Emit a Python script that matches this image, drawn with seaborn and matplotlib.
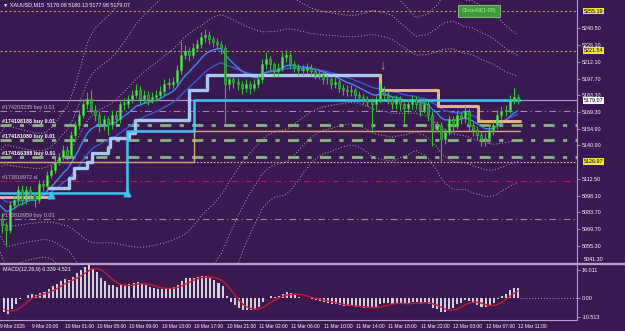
import numpy as np
import pandas as pd
import matplotlib
matplotlib.use("Agg")
import matplotlib.pyplot as plt
import matplotlib.transforms as mtransforms
from matplotlib.lines import Line2D
import seaborn as sns

# XAUUSD closes before the visible window (warm up the indicators only)
prev_closes = [5112, 5110, 5114, 5108, 5111, 5106, 5109, 5104, 5107, 5102,
               5105, 5100, 5103, 5098, 5100, 5094, 5090, 5086, 5082, 5078]

# visible bars (half-hour steps)
closes = [5073, 5069, 5090, 5094, 5103, 5094, 5103, 5099, 5094, 5108,
          5106, 5116, 5120, 5127, 5131, 5137, 5133, 5150, 5158, 5167,
          5176, 5180, 5171, 5167, 5158, 5163, 5158, 5167, 5163, 5176,
          5176, 5180, 5184, 5188, 5180, 5184, 5180, 5182, 5184, 5187,
          5193, 5193, 5195, 5205, 5218, 5221, 5218, 5224, 5227, 5233,
          5235, 5231, 5229, 5227, 5224, 5193, 5197, 5195, 5193, 5190,
          5193, 5190, 5193, 5197, 5210, 5214, 5210, 5204, 5207, 5216,
          5218, 5210, 5207, 5205, 5205, 5207, 5204, 5201, 5201, 5197,
          5197, 5193, 5195, 5190, 5188, 5187, 5188, 5184, 5182, 5180,
          5178, 5176, 5180, 5188, 5184, 5180, 5176, 5180, 5176, 5173,
          5176, 5180, 5176, 5171, 5176, 5167, 5155, 5158, 5146, 5152,
          5163, 5158, 5167, 5164, 5170, 5158, 5154, 5150, 5146, 5147,
          5154, 5158, 5167, 5170, 5171, 5180, 5182, 5179.07]
highs = [5083, 5076, 5093, 5098, 5106, 5107, 5106, 5106, 5101, 5111,
         5111, 5119, 5124, 5130, 5134, 5141, 5140, 5153, 5162, 5171,
         5180, 5186, 5188, 5175, 5170, 5167, 5166, 5171, 5170, 5179,
         5181, 5184, 5188, 5193, 5191, 5188, 5187, 5186, 5188, 5191,
         5197, 5198, 5199, 5209, 5230, 5226, 5225, 5228, 5231, 5237,
         5240, 5238, 5234, 5232, 5230, 5226, 5201, 5200, 5198, 5196,
         5197, 5196, 5197, 5201, 5214, 5220, 5217, 5212, 5211, 5220,
         5222, 5220, 5213, 5210, 5209, 5211, 5210, 5207, 5205, 5203,
         5201, 5199, 5199, 5197, 5193, 5192, 5192, 5190, 5187, 5185,
         5183, 5181, 5184, 5194, 5191, 5187, 5183, 5184, 5183, 5179,
         5180, 5184, 5183, 5179, 5180, 5179, 5170, 5162, 5161, 5156,
         5167, 5166, 5171, 5170, 5174, 5172, 5161, 5157, 5153, 5151,
         5158, 5162, 5171, 5174, 5175, 5184, 5190, 5185]
lows = [5066, 5056, 5066, 5087, 5091, 5090, 5091, 5095, 5088, 5092,
        5102, 5103, 5113, 5117, 5124, 5128, 5128, 5130, 5147, 5155,
        5164, 5172, 5168, 5162, 5152, 5154, 5150, 5155, 5158, 5160,
        5171, 5173, 5177, 5181, 5176, 5177, 5175, 5177, 5179, 5181,
        5184, 5189, 5190, 5192, 5202, 5214, 5213, 5215, 5221, 5224,
        5229, 5227, 5225, 5223, 5219, 5160, 5188, 5190, 5188, 5185,
        5186, 5185, 5187, 5190, 5194, 5206, 5205, 5199, 5200, 5204,
        5212, 5206, 5203, 5201, 5201, 5202, 5200, 5197, 5197, 5193,
        5193, 5189, 5190, 5186, 5184, 5183, 5183, 5180, 5178, 5176,
        5174, 5154, 5172, 5177, 5180, 5176, 5172, 5172, 5171, 5160,
        5169, 5172, 5172, 5166, 5168, 5162, 5140, 5152, 5127, 5142,
        5150, 5152, 5155, 5159, 5160, 5153, 5149, 5145, 5140, 5140,
        5143, 5150, 5155, 5163, 5166, 5168, 5176, 5176]

# step indicators: bar index where each level starts, and the level
cyan_idx = [-1, 30.8, 47.3, 127.6]
cyan_lvl = [5100.3, 5153.1, 5179.5, 5179.5]
steel_idx = [11.6, 16.5, 17.7, 21.0, 22.2, 26.0, 26.6, 31.3, 32.8, 46.0, 50.5, 93.2]
steel_lvl = [5104.5, 5113.1, 5121.6, 5126.7, 5134.3, 5139.5, 5147.1, 5151.3,
             5162.4, 5188.0, 5200.7, 5200.7]
tan_idx = [93.2, 93.2, 107.3, 117.3, 127.6]
tan_lvl = [5200.7, 5188.0, 5174.4, 5161.6, 5161.6]
tan_thin_idx = [-1, 47.3, 127.6]
tan_thin_lvl = [5126.9, 5153.1, 5153.1]
salmon_idx = [-1, 12.0]
salmon_lvl = [5096.9, 5096.9]
arrow_idx = [12.0, 30.8]
arrow_lvl = [5098.6, 5100.3]

# orders / levels
order_lvls = [5170.1, 5158.2, 5145.4, 5130.9, 5110.5, 5078.2]
order_texts = ["#174203235 buy 0.01", "#174198188 buy 0.01", "#174181080 buy 0.01",
               "#174166388 buy 0.01", "#173816972 sl", "#173818959 buy 0.01"]
order_kind = ["thin", "thick", "thick", "thick", "sl", "thin"]
dotted_lvls = [5255.19, 5221.54]
yellow_lvls = [5255.19, 5221.54, 5126.97]
bid = 5179.07

price_ticks = [5240.50, 5226.10, 5212.10, 5197.70, 5183.30, 5169.30, 5154.90,
               5140.90, 5112.50, 5098.10, 5083.70, 5069.70, 5055.30]
time_idx = [-1, 7, 15, 23, 31, 39, 47, 55, 63, 71, 79, 87, 95, 103, 111, 119, 127]
time_labels = ["9 Mar 2026", "9 Mar 20:00", "10 Mar 01:00", "10 Mar 05:00", "10 Mar 09:00",
               "10 Mar 13:00", "10 Mar 17:00", "10 Mar 21:00", "11 Mar 02:00",
               "11 Mar 06:00", "11 Mar 10:00", "11 Mar 14:00", "11 Mar 18:00",
               "11 Mar 22:00", "12 Mar 03:00", "12 Mar 07:00", "12 Mar 11:00"]

bg = "#3a1850"
frame = "#b8a2cc"
fs = 3.9
sns.set_theme(style="dark", rc={"axes.facecolor": bg, "figure.facecolor": bg})
plt.rcParams["font.family"] = ["Liberation Sans", "DejaVu Sans"]

# indicators from the close series
full = pd.Series(prev_closes + closes, dtype=float)
npv = len(prev_closes)
x_full = np.arange(-npv, len(closes))
ema_fast = full.ewm(span=10, adjust=False).mean()
ema_slow = full.ewm(span=20, adjust=False).mean()
macd = full.ewm(span=6, adjust=False).mean() - full.ewm(span=13, adjust=False).mean()
signal = macd.rolling(5, min_periods=1).mean()

fig = plt.figure(figsize=(6.25, 3.31), dpi=100)
ax = fig.add_axes([0, 68 / 331, 577 / 625, 263 / 331])
axm = fig.add_axes([0, 11 / 331, 577 / 625, 55 / 331])
x0, x1 = -0.5, 141.6

# bands (dotted)
for win, k in [(48, 2.0), (48, 3.3), (48, 4.6)]:
    mid = full.rolling(win, min_periods=10).mean()
    sd = full.rolling(win, min_periods=10).std()
    for sign in (1, -1):
        sns.lineplot(x=x_full, y=mid + sign * k * sd, ax=ax, color="#b9a9c9",
                     lw=0.7, linestyle=(0, (1, 2)), legend=False)

# horizontal levels
for lv in dotted_lvls:
    ax.axhline(lv, color="#c99a5a", lw=0.8, linestyle=(0, (2, 2)))
ax.axhline(5126.97, color="#f2b09a", lw=0.8, linestyle=(0, (1.5, 1.5)))
for lv, kind in zip(order_lvls, order_kind):
    if kind == "thick":
        ax.axhline(lv, color="#8db488", lw=2, linestyle=(0, (4, 3, 1.5, 3)))
    elif kind == "sl":
        ax.axhline(lv, color="#b0203e", lw=0.8, linestyle=(0, (6, 3, 1, 3)))
    else:
        ax.axhline(lv, color="#9a90aa", lw=0.8, linestyle=(0, (6, 3, 1, 3)))
ax.axhline(bid, color="#b49cc8", lw=0.8)

# moving averages
sns.lineplot(x=x_full, y=ema_slow, ax=ax, color="#3a5ad8", lw=1, legend=False)
sns.lineplot(x=x_full, y=ema_fast, ax=ax, color="#3f8cff", lw=1, legend=False)

# step indicators
ax.step(tan_thin_idx, tan_thin_lvl, where="post", color="#d9a87a", lw=1)
ax.step(salmon_idx, salmon_lvl, where="post", color="#e8aaa4", lw=2.2)
ax.step(steel_idx, steel_lvl, where="post", color="#a9c9f2", lw=2.4)
ax.step(tan_idx, tan_lvl, where="post", color="#e3b37f", lw=2.2)
ax.step(cyan_idx, cyan_lvl, where="post", color="#3cc8f2", lw=1.8)
ax.scatter(arrow_idx, arrow_lvl, marker="^", s=22, color="#3cc8f2", zorder=6)

# candles
xi = np.arange(len(closes))
opens = [prev_closes[-1]] + closes[:-1]
ax.vlines(xi, lows, highs, color="#28c828", lw=0.8, zorder=4)
body_lo = np.minimum(opens, closes)
body_h = np.maximum(np.abs(np.array(closes) - np.array(opens)), 0.6)
up = np.array(closes) >= np.array(opens)
ax.bar(xi[up], body_h[up], bottom=body_lo[up], width=0.5, color="#5ee85e",
       edgecolor="#28c828", lw=0.4, zorder=5)
ax.bar(xi[~up], body_h[~up], bottom=body_lo[~up], width=0.5, color="#1e8f1e",
       edgecolor="#38d838", lw=0.4, zorder=5)

ax.text(93.6, 5209, "\u2193", color="#ff9a1a", fontsize=9, fontweight="bold",
        ha="center", va="center")

# order labels
for lv, txt, kind in zip(order_lvls, order_texts, order_kind):
    bold = kind == "thick"
    ax.text(0.0, lv + 2.8, txt, fontsize=fs, color="white" if bold else "#c8c0d0",
            fontweight="bold" if bold else "normal", va="center", ha="left", zorder=7)

ax.set_xlim(x0, x1)
ax.set_ylim(5040.7, 5264.6)
ax.yaxis.tick_right()
ax.set_yticks(price_ticks)
ax.set_yticklabels([f"{v:.2f}" for v in price_ticks])
ax.tick_params(axis="y", colors=frame, labelcolor="white", labelsize=fs,
               length=2, width=0.6, pad=1.5)
ax.set_xticks([])
ax.set_xlabel("")
ax.set_ylabel("")
for s in ax.spines.values():
    s.set_visible(False)
ax.spines["right"].set_visible(True)
ax.spines["right"].set_color(frame)
ax.spines["right"].set_linewidth(0.8)

trans = mtransforms.blended_transform_factory(ax.transAxes, ax.transData)
for lv in yellow_lvls:
    ax.text(1.012, lv, f"{lv:.2f}", transform=trans, fontsize=fs, color="black",
            va="center", ha="left", clip_on=False,
            bbox=dict(boxstyle="square,pad=0.15", fc="#f5e43a", ec="none"))
ax.text(1.012, bid, f"{bid:.2f}", transform=trans, fontsize=fs, color="black",
        va="center", ha="left", clip_on=False,
        bbox=dict(boxstyle="square,pad=0.15", fc="white", ec="none"))
ax.text(1.012, 5043.5, "5041.30", transform=trans, fontsize=fs, color="white",
        va="center", ha="left", clip_on=False)

ax.text(0.005, 0.99, "\u25bc XAUUSD,M15  5178.08 5180.13 5177.98 5179.07",
        transform=ax.transAxes, fontsize=fs, color="white", va="top", ha="left")
ax.text(0.83, 0.968, "CloseAll(1-08)", transform=ax.transAxes, fontsize=fs,
        color="#b8f0a8", va="top", ha="center",
        bbox=dict(boxstyle="square,pad=0.7", fc="#3f9a3a", ec="#8ad07c", lw=0.6))

# MACD pane
mvis = macd.iloc[npv:].to_numpy()
svis = signal.iloc[npv:].to_numpy()
axm.bar(xi, mvis, width=0.5, color="#d6d0de", lw=0)
sns.lineplot(x=xi, y=svis, ax=axm, color="#c21c34", lw=1, legend=False)
axm.hlines(0, 127.6, x1, color=frame, lw=0.7, linestyles=(0, (1, 2)))
axm.set_xlim(x0, x1)
axm.set_ylim(-12.2, 18.6)
axm.yaxis.tick_right()
axm.set_yticks([16.011, 0, -10.513])
axm.set_yticklabels(["16.011", "0.00", "-10.513"])
axm.tick_params(axis="y", colors=frame, labelcolor="white", labelsize=fs,
                length=2, width=0.6, pad=1.5)
axm.set_xticks(time_idx)
axm.set_xticklabels(time_labels, ha="left")
axm.tick_params(axis="x", colors=frame, labelcolor="white", labelsize=3.5,
                length=2, width=0.6, pad=1)
axm.set_xlabel("")
axm.set_ylabel("")
for s in axm.spines.values():
    s.set_visible(False)
for side in ("right", "bottom"):
    axm.spines[side].set_visible(True)
    axm.spines[side].set_color(frame)
    axm.spines[side].set_linewidth(0.8)
axm.text(0.005, 0.97, "MACD(12,26,9) 6.339 4.521", transform=axm.transAxes,
         fontsize=fs, color="white", va="top", ha="left")

# pane separator
fig.add_artist(Line2D([0, 1], [67.3 / 331, 67.3 / 331], color=frame, lw=1.6))

fig.savefig("out.png", dpi=100, facecolor=bg)
